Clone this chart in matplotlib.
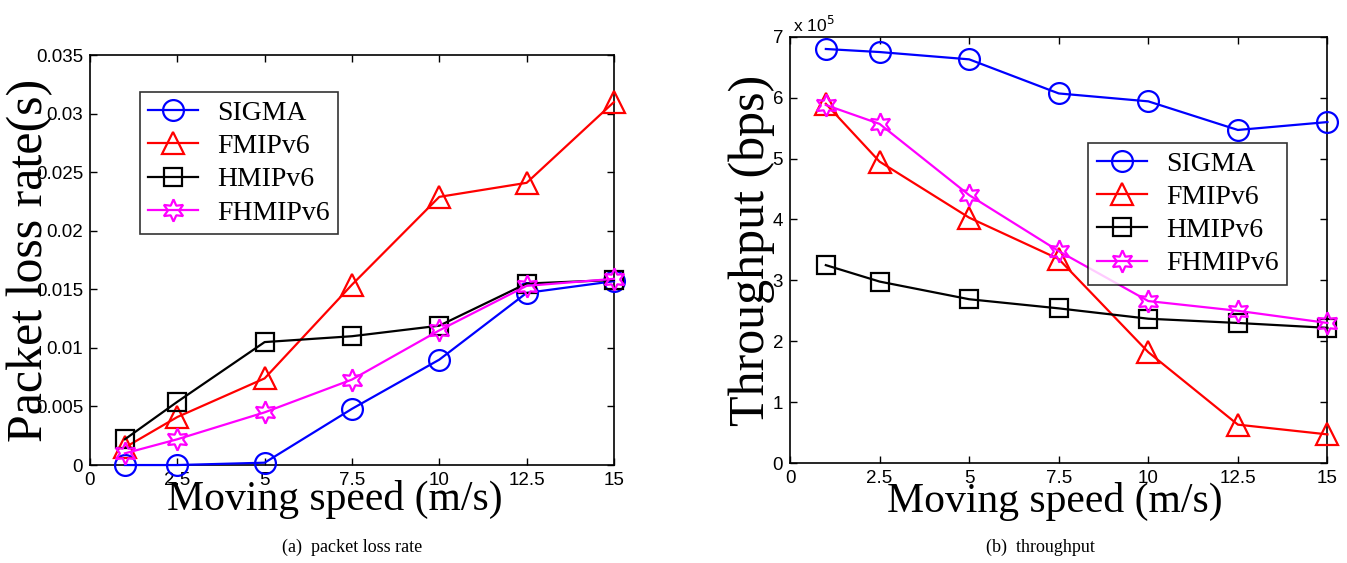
import matplotlib
matplotlib.use("Agg")
import matplotlib.pyplot as plt

# ── Data ──────────────────────────────────────────────────────────────────────
speed = [1, 2.5, 5, 7.5, 10, 12.5, 15]
x_ticks = [0, 2.5, 5, 7.5, 10, 12.5, 15]
x_tick_labels = ["0", "2.5", "5", "7.5", "10", "12.5", "15"]

loss_sigma   = [0.0000, 0.0000, 0.0002, 0.0048, 0.0090, 0.0147, 0.0157]
loss_fmipv6  = [0.0015, 0.0041, 0.0074, 0.0154, 0.0229, 0.0241, 0.0310]
loss_hmipv6  = [0.0022, 0.0054, 0.0105, 0.0110, 0.0119, 0.0155, 0.0158]
loss_fhmipv6 = [0.0010, 0.0022, 0.0045, 0.0073, 0.0115, 0.0153, 0.0159]
loss_ticks = [0, 0.005, 0.01, 0.015, 0.02, 0.025, 0.03, 0.035]
loss_tick_labels = ["0", "0.005", "0.01", "0.015", "0.02", "0.025", "0.03", "0.035"]

# throughput in units of 1e5 bps
thr_sigma   = [6.80, 6.75, 6.63, 6.07, 5.94, 5.47, 5.60]
thr_fmipv6  = [5.90, 4.95, 4.03, 3.35, 1.82, 0.63, 0.47]
thr_hmipv6  = [3.25, 2.98, 2.69, 2.54, 2.37, 2.30, 2.22]
thr_fhmipv6 = [5.88, 5.57, 4.40, 3.48, 2.66, 2.50, 2.30]
thr_ticks = [0, 1, 2, 3, 4, 5, 6, 7]

names = ["SIGMA", "FMIPv6", "HMIPv6", "FHMIPv6"]
colors = ["#0000FF", "#FF0000", "#000000", "#FF00FF"]
markers = ["o", "^", "s", (6, 1, 0)]
msizes = [15, 16, 13, 16]

SERIF = "Liberation Serif"
SANS = "Liberation Sans"

fig = plt.figure(figsize=(13.47, 5.63), dpi=100)
fig.patch.set_facecolor("white")

ax1 = fig.add_axes([0.0668, 0.174, 0.389, 0.728])
ax2 = fig.add_axes([0.5865, 0.1776, 0.399, 0.757])


def draw(ax, series):
    for vals, name, c, m, ms in zip(series, names, colors, markers, msizes):
        ax.plot(speed, vals, color=c, lw=1.6, marker=m, markersize=ms,
                markerfacecolor="none", markeredgecolor=c, markeredgewidth=1.6,
                label=name, clip_on=False, zorder=3)
    ax.set_xlim(0, 15)
    ax.set_xticks(x_ticks)
    ax.set_xticklabels(x_tick_labels)
    ax.tick_params(direction="in", length=5, width=1, top=True, right=True,
                   labelsize=13.5, pad=5)
    for lbl in ax.get_xticklabels() + ax.get_yticklabels():
        lbl.set_family(SANS)
    for sp in ax.spines.values():
        sp.set_linewidth(1.2)


def add_legend(ax, anchor):
    leg = ax.legend(loc="upper left", bbox_to_anchor=anchor,
                    prop={"family": SERIF, "size": 20}, frameon=True,
                    fancybox=False, edgecolor="black", handlelength=1.8,
                    borderpad=0.3, labelspacing=0.28, handletextpad=0.7,
                    borderaxespad=0.0)
    leg.get_frame().set_linewidth(1.2)
    return leg


# ── (a) packet loss rate ──────────────────────────────────────────────────────
draw(ax1, [loss_sigma, loss_fmipv6, loss_hmipv6, loss_fhmipv6])
ax1.set_ylim(0, 0.035)
ax1.set_yticks(loss_ticks)
ax1.set_yticklabels(loss_tick_labels, family=SANS)
ax1.text(-0.115, 0.5, "Packet loss rate(s)", transform=ax1.transAxes,
         rotation=90, ha="center", va="center", fontsize=36, family=SERIF)
ax1.text(0.468, -0.085, "Moving speed (m/s)", transform=ax1.transAxes,
         ha="center", va="center", fontsize=30, family=SERIF)
add_legend(ax1, (0.095, 0.91))

# ── (b) throughput ────────────────────────────────────────────────────────────
draw(ax2, [thr_sigma, thr_fmipv6, thr_hmipv6, thr_fhmipv6])
ax2.set_ylim(0, 7)
ax2.set_yticks(thr_ticks)
ax2.set_yticklabels([str(t) for t in thr_ticks], family=SANS)
ax2.text(0.005, 1.005, r"x 10$^{5}$", transform=ax2.transAxes,
         ha="left", va="bottom", fontsize=12.5, family=SANS)
ax2.text(-0.071, 0.5, "Throughput (bps)", transform=ax2.transAxes,
         rotation=90, ha="center", va="center", fontsize=36, family=SERIF)
ax2.text(0.493, -0.09, "Moving speed (m/s)", transform=ax2.transAxes,
         ha="center", va="center", fontsize=30, family=SERIF)
add_legend(ax2, (0.555, 0.751))

# ── captions ──────────────────────────────────────────────────────────────────
fig.text(352 / 1347, 1 - 547 / 563, "(a)  packet loss rate", ha="center",
         va="center", fontsize=13, family=SERIF)
fig.text(1040 / 1347, 1 - 547 / 563, "(b)  throughput", ha="center",
         va="center", fontsize=13, family=SERIF)

fig.savefig("out.png", dpi=100, facecolor="white")
plt.close(fig)
